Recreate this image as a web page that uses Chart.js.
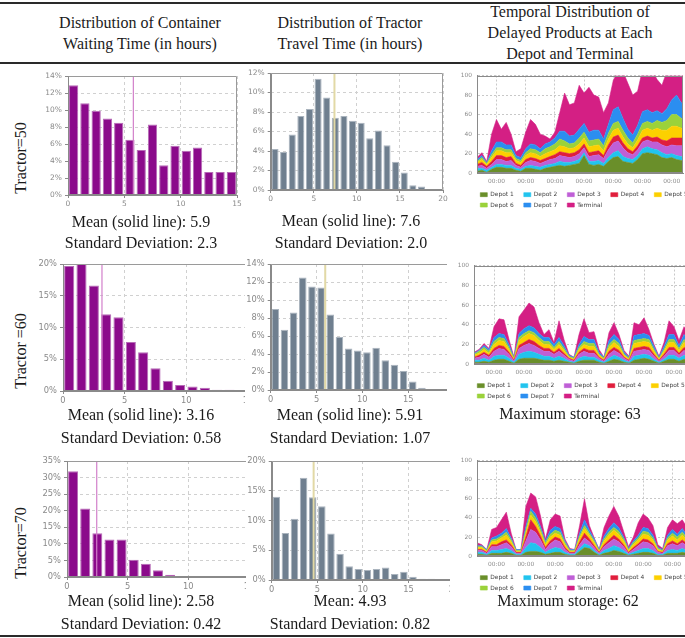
<!DOCTYPE html>
<html>
<head>
<meta charset="utf-8">
<title>Container waiting, tractor travel and delayed products</title>
<script src="https://cdn.jsdelivr.net/npm/chart.js@4.4.1/dist/chart.umd.min.js"></script>
<style>
  html, body { margin:0; padding:0; background:#fff; }
  body { width:685px; height:638px; overflow:hidden; }
  #page { position:relative; width:685px; height:638px; overflow:hidden; background:#fff; }
  #page canvas { position:absolute; background:#fff; }
  .tx { position:absolute; width:320px; margin-left:-160px; height:20px; margin-top:-10px;
        text-align:center; white-space:nowrap; font-family:'Liberation Serif','Times New Roman',serif;
        font-size:16px; line-height:20px; color:#1b1b1b; z-index:10; }
  .rot { transform:rotate(-90deg); }
  .rule { position:absolute; left:0; width:685px; background:#2a2a2a; z-index:11; }
</style>
</head>
<body>
<div id="page">
  <div class="rule" style="top:2px;height:2px"></div>
  <div class="rule" style="top:62px;height:1.5px"></div>
  <div class="rule" style="top:635px;height:1.5px"></div>

  <div class="tx" style="left:140px;top:23px">Distribution of Container</div>
  <div class="tx" style="left:140px;top:44px">Waiting Time (in hours)</div>
  <div class="tx" style="left:350px;top:23px">Distribution of Tractor</div>
  <div class="tx" style="left:350px;top:44px">Travel Time (in hours)</div>
  <div class="tx" style="left:570px;top:12px">Temporal Distribution of</div>
  <div class="tx" style="left:570px;top:33px">Delayed Products at Each</div>
  <div class="tx" style="left:570px;top:54px">Depot and Terminal</div>

  <div class="tx rot" style="left:21px;top:158px">Tractor=50</div>
  <div class="tx rot" style="left:21px;top:351px">Tractor =60</div>
  <div class="tx rot" style="left:21px;top:543px">Tractor=70</div>

  <div class="tx" style="left:141px;top:222px">Mean (solid line): 5.9</div>
  <div class="tx" style="left:141px;top:243px">Standard Deviation: 2.3</div>
  <div class="tx" style="left:351px;top:221px">Mean (solid line): 7.6</div>
  <div class="tx" style="left:351px;top:243px">Standard Deviation: 2.0</div>

  <div class="tx" style="left:141px;top:415px">Mean (solid line): 3.16</div>
  <div class="tx" style="left:141px;top:438px">Standard Deviation: 0.58</div>
  <div class="tx" style="left:350px;top:415px">Mean (solid line): 5.91</div>
  <div class="tx" style="left:350px;top:438px">Standard Deviation: 1.07</div>
  <div class="tx" style="left:570px;top:414px">Maximum storage: 63</div>

  <div class="tx" style="left:141px;top:601px">Mean (solid line): 2.58</div>
  <div class="tx" style="left:141px;top:624px">Standard Deviation: 0.42</div>
  <div class="tx" style="left:350px;top:601px">Mean: 4.93</div>
  <div class="tx" style="left:350px;top:624px">Standard Deviation: 0.82</div>
  <div class="tx" style="left:568px;top:601px">Maximum storage: 62</div>
</div>
<script>
// ---------------- DATA ----------------
// 1-hour histogram bins (bin centres, hours)
const binCenters = [0.5,1.5,2.5,3.5,4.5,5.5,6.5,7.5,8.5,9.5,10.5,11.5,12.5,13.5,14.5,15.5,16.5,17.5];

// Container waiting time (% per bin)
const waitT50 = [12.9,10.8,9.9,9.0,8.5,6.5,5.3,8.3,3.5,5.8,5.2,5.6,2.7,2.7,2.7];
const waitT60 = [19.7,20.2,16.6,12.1,11.6,7.7,6.1,3.6,1.6,0.95,0.7,0.5,0.2,0.2,0.15];
const waitT70 = [31.9,20.7,13.2,11.3,11.3,5.2,4.0,2.0,0.7,0.3,0.2,0.15,0.1,0.1];
// Tractor travel time (% per bin)
const travelT50 = [4.2,3.9,5.7,7.6,8.3,11.4,9.5,7.4,7.6,7.1,6.9,5.3,6.1,4.6,2.9,1.8,0.5,0.35];
const travelT60 = [9.0,6.7,8.6,12.5,11.5,11.4,8.4,5.9,4.6,4.4,4.2,4.7,3.3,2.8,2.1,0.95,0.25];
const travelT70 = [14.0,7.9,10.3,17.2,13.9,12.4,7.8,4.4,2.3,1.85,1.7,1.85,2.1,1.0,1.4,0.55,0.2,0.2];
// Position of the mean line drawn on each histogram (hours)
const meanWaitT50 = 5.8, meanWaitT60 = 3.16, meanWaitT70 = 2.45;
const meanTravelT50 = 7.4, meanTravelT60 = 5.95, meanTravelT70 = 4.6;

// Delayed products over time: hours relative to first midnight
const hours = [-16,-12,-8,-4,0,4,8,12,16,20,24,28,32,36,40,44,48,52,56,60,64,68,72,76,80,84,88,92,96,100,104,108,112,116,120,124,128,132,136,140,144,148,152,156,160];
const seriesNames = ['Depot 1','Depot 2','Depot 3','Depot 4','Depot 5','Depot 6','Depot 7','Terminal'];

// Tractor = 50
const t50_depot1 = [2,3,1,4,6,6,5,5,3,2,5,5,4,3,5,6,7,8,7,8,9,10,18,9,8,9,7,12,16,17,12,11,10,14,20,21,20,19,16,15,16,14,13,13,13];
const t50_depot2 = [3,2,2,2,3,3,3,3,2,2,2,3,3,3,3,3,3,4,4,3,3,4,3,3,4,4,3,4,5,6,5,4,4,4,5,6,5,5,5,4,4,4,4,4,4];
const t50_depot3 = [2,3,2,3,5,5,4,5,3,2,4,5,5,4,4,5,5,6,6,5,5,6,5,5,6,6,5,8,10,10,9,6,5,6,7,7,7,8,8,8,9,10,11,11,11];
const t50_depot4 = [2,3,2,3,4,4,4,4,2,2,3,3,3,3,3,3,4,4,4,4,4,4,4,4,4,4,3,5,6,6,5,4,3,4,4,4,4,5,5,6,7,8,8,8,8];
const t50_depot5 = [2,3,2,4,5,5,5,4,3,3,4,5,5,4,5,5,5,6,6,5,5,6,6,6,6,6,5,6,7,7,6,5,4,6,8,8,8,9,10,11,12,12,10,10,10];
const t50_depot6 = [1,2,1,3,3,3,3,3,2,2,3,4,4,4,5,5,6,7,6,5,5,6,6,6,6,6,5,6,7,7,7,6,5,6,7,7,7,8,8,10,12,12,10,10,10];
const t50_depot7 = [2,2,1,4,6,6,5,5,3,3,4,5,5,4,5,5,6,8,10,8,8,9,9,9,10,9,7,9,14,15,12,9,8,9,12,12,11,10,9,12,15,20,16,16,16];
const t50_terminal = [2,3,1,17,23,13,23,11,4,9,17,25,21,15,8,3,6,19,39,32,33,45,31,46,36,34,27,22,30,37,48,47,41,35,43,43,43,32,29,38,33,26,32,32,32];

// Tractor = 60
const t60_depot1 = [2,2,3,2,4,5,5,3,1,5,6,6,6,5,4,4,3,4,3,2,1,3,4,4,4,2,1,3,5,4,2,1,4,5,6,5,3,1,3,5,5,3,5,4,3];
const t60_depot2 = [2,2,3,2,4,4,4,3,1,5,6,7,6,5,4,4,3,4,3,1,1,3,4,3,3,2,1,3,4,3,2,1,4,4,4,4,2,1,2,4,4,3,4,3,3];
const t60_depot3 = [2,3,4,3,5,7,6,4,1,6,7,8,7,6,5,5,4,5,3,2,1,4,5,4,4,2,1,4,5,4,2,1,5,5,5,5,3,1,3,5,5,3,5,4,3];
const t60_depot4 = [1,2,2,2,3,3,3,2,1,3,3,4,4,3,3,3,2,3,2,1,1,2,3,3,3,1,1,3,3,3,1,1,3,3,3,3,2,1,2,3,3,2,3,3,2];
const t60_depot5 = [2,2,3,2,4,5,5,3,1,5,6,6,6,5,4,4,3,4,3,1,1,3,4,4,4,2,1,4,5,4,2,1,5,5,5,5,3,1,3,5,5,3,5,4,3];
const t60_depot6 = [1,2,2,2,3,3,3,2,1,3,3,3,3,3,3,3,2,3,2,1,1,2,3,3,3,1,1,3,3,3,1,1,3,3,3,3,2,1,2,3,3,2,3,2,2];
const t60_depot7 = [1,1,2,2,4,4,4,3,1,4,5,5,5,4,4,4,3,4,3,1,1,3,5,4,4,2,1,4,5,4,2,1,5,5,5,4,3,1,3,5,5,3,5,4,3];
const t60_terminal = [1,1,2,1,11,15,15,5,0,17,19,23,21,11,3,8,2,17,6,1,0,10,18,7,8,3,0,8,12,5,2,1,13,10,16,6,2,1,4,14,8,5,8,6,5];

// Tractor = 70
const t70_depot1 = [2,2,1,3,3,3,4,3,1,1,4,5,5,4,2,3,4,4,2,1,1,5,9,8,4,1,3,4,6,5,3,1,2,3,4,4,3,1,1,3,3,3,4,3,3];
const t70_depot2 = [2,2,1,3,3,4,4,3,1,1,5,9,8,5,2,4,5,4,2,1,1,3,4,3,2,1,3,4,5,4,3,1,2,3,4,4,3,1,1,3,4,3,4,3,3];
const t70_depot3 = [2,2,1,4,4,5,6,4,1,1,7,14,12,8,3,6,8,7,3,1,1,4,6,4,3,1,4,6,7,6,4,1,3,5,7,6,5,2,1,5,6,5,6,5,4];
const t70_depot4 = [1,1,1,2,2,3,3,2,1,1,4,10,6,4,2,3,3,3,2,1,1,3,5,3,2,1,2,3,4,3,2,1,2,2,3,3,2,1,1,2,3,2,3,2,2];
const t70_depot5 = [2,2,1,3,4,4,5,3,1,1,4,5,5,4,3,4,4,4,3,1,1,4,5,4,3,1,4,5,5,5,4,2,3,4,5,5,4,2,1,4,5,4,5,4,3];
const t70_depot6 = [1,1,1,2,2,2,3,2,1,1,3,4,4,3,2,3,3,3,2,1,1,2,3,2,2,1,2,3,3,3,2,1,2,2,3,3,2,1,1,2,3,3,3,2,2];
const t70_depot7 = [1,1,1,2,3,3,4,2,1,1,4,3,4,3,2,4,4,4,2,1,1,3,6,3,2,1,3,4,5,4,2,1,2,3,4,4,3,1,1,3,4,3,4,3,3];
const t70_terminal = [3,1,0,9,9,14,17,5,0,0,21,16,18,11,2,11,13,13,2,1,0,8,22,5,1,0,9,13,17,12,6,2,4,13,14,11,10,3,1,8,10,11,9,8,5];

const seriesColors = ['#6a8f2a','#22c4ee','#bf5fd6','#e01e3c','#fcd000','#9bd23a','#2b8ef0','#d41f84'];

// ---------------- RENDERING ----------------
Chart.defaults.font.family = "'DejaVu Sans', Verdana, sans-serif";
Chart.defaults.color = '#808080';

const framePlugin = {
  id: 'frame',
  afterDatasetsDraw(chart, args, opts) {
    const a = chart.chartArea, ctx = chart.ctx;
    const l = Math.round(a.left) + 0.5, r = Math.round(a.right) - 0.5;
    const t = Math.round(a.top) + 0.5, b = Math.round(a.bottom) - 0.5;
    ctx.save();
    ctx.lineWidth = 1;
    ctx.strokeStyle = opts.color || '#999';
    ctx.beginPath();
    ctx.moveTo(l, t); ctx.lineTo(r, t); ctx.lineTo(r, b);
    ctx.stroke();
    ctx.strokeStyle = opts.axisColor || '#888';
    ctx.beginPath();
    ctx.moveTo(l, t); ctx.lineTo(l, b); ctx.lineTo(r, b);
    ctx.stroke();
    ctx.restore();
  }
};

// Aligns the legend's first item with the plot's left edge (as in the original figure)
const legendShift = {
  id: 'legendShift',
  afterLayout(chart, args, opts) {
    const lg = chart.legend;
    if (!lg) return;
    const dx = chart.chartArea.left + (opts.offset || 0) - (lg.left + lg.options.labels.padding);
    lg.left += dx; lg.right += dx;
  }
};

function histConfig(o) {
  return () => ({
    type: 'bar',
    data: {
      datasets: [
        { type: 'line', label: 'Mean', order: 0,
          data: [{x: o.mean, y: 0}, {x: o.mean, y: o.ymax}],
          borderColor: o.meanColor, borderWidth: o.meanWidth, pointRadius: 0, fill: false },
        { type: 'bar', label: 'Share', order: 1,
          data: o.values.map((v, i) => ({x: binCenters[i], y: v})),
          backgroundColor: o.color, borderColor: o.edge, borderWidth: 1,
          barPercentage: 0.82, categoryPercentage: 1 }
      ]
    },
    options: {
      responsive: false, animation: false, events: [],
      layout: { padding: { left: 0, top: 8, right: 8, bottom: 2 } },
      plugins: { legend: { display: false }, tooltip: { enabled: false },
                 frame: { color: '#9a9a9a', axisColor: '#8a8a8a' } },
      scales: {
        x: { type: 'linear', min: 0, max: o.xmax, offset: false,
             ticks: { stepSize: 5, color: '#8a8a8a', font: { size: o.fs }, padding: 2, maxRotation: 0 },
             grid: { offset: false, color: '#d0d0d0', tickColor: '#8a8a8a', tickLength: 3 },
             border: { color: '#8a8a8a', dash: [3, 3] },
             afterFit: s => { s.height = 16; } },
        y: { min: 0, max: o.ymax,
             ticks: { stepSize: o.ystep, color: '#8a8a8a', font: { size: o.fs }, padding: 3,
                      callback: v => v + '%' },
             grid: { color: '#d0d0d0', tickColor: '#8a8a8a', tickLength: 3 },
             border: { color: '#8a8a8a', dash: [3, 3] },
             afterFit: s => { s.width = o.yW; } }
      }
    },
    plugins: [framePlugin]
  });
}

const areaPadLeft = 9, areaYW = 18, areaW = 250;

function areaConfig(o) {
  const layers = o.layers;
  return () => ({
    type: 'line',
    data: {
      datasets: seriesNames.map((name, k) => ({
        label: name,
        data: layers[k].map((v, i) => ({x: hours[i], y: v})),
        backgroundColor: seriesColors[k], borderColor: seriesColors[k], borderWidth: 0.6,
        pointRadius: 0, tension: 0, fill: k === 0 ? 'origin' : '-1'
      }))
    },
    options: {
      responsive: false, animation: false, events: [],
      layout: { padding: { left: areaPadLeft, top: 8, right: 0, bottom: 0 } },
      plugins: {
        tooltip: { enabled: false },
        frame: { color: '#8a8a8a', axisColor: '#8a8a8a' },
        legendShift: { offset: 3.3 },
        legend: { position: 'bottom', align: 'start',
          labels: { boxWidth: 7, boxHeight: 4, padding: 4.5, color: '#444',
                    font: { size: 5.9 },
                    generateLabels: ch => Chart.defaults.plugins.legend.labels.generateLabels(ch)
                                          .map(it => Object.assign(it, { text: it.text + '   ' })) } }
      },
      scales: {
        x: { type: 'linear', min: o.xmin, max: o.xmax,
             ticks: { stepSize: 24, includeBounds: false, maxRotation: 0, padding: 4.5,
                      color: '#8a8a8a', font: { size: 5.9 },
                      callback: v => (v % 24 === 0 ? '00:00' : null) },
             grid: { color: '#c8c8c8', drawTicks: false },
             border: { color: '#8a8a8a', dash: [2, 2] },
             afterFit: s => { s.height = 14; } },
        y: { stacked: true, min: 0, max: 100,
             ticks: { stepSize: 20, padding: 5, color: '#8a8a8a', font: { size: 5.9 } },
             grid: { color: '#c8c8c8', drawTicks: false },
             border: { color: '#8a8a8a', dash: [2, 2] },
             afterFit: s => { s.width = areaYW; } },
        yR: { type: 'linear', position: 'right', display: true,
              grid: { display: false, drawTicks: false }, ticks: { display: false },
              border: { display: false },
              afterFit: s => { s.width = areaW - areaPadLeft - areaYW - o.plotW; } }
      }
    },
    plugins: [framePlugin, legendShift]
  });
}

function mount(id, makeCfg, box, z, fixedW) {
  const page = document.getElementById('page');
  function create(w, h) {
    const cv = document.createElement('canvas');
    cv.id = id; cv.width = w; cv.height = h;
    cv.style.zIndex = z;
    page.appendChild(cv);
    return { cv, chart: new Chart(cv, makeCfg()) };
  }
  const w0 = fixedW || 320, h0 = 260;
  const first = create(w0, h0);
  const a = first.chart.chartArea;
  const ol = a.left, ot = a.top, orr = w0 - a.right, ob = h0 - a.bottom;
  first.chart.destroy(); first.cv.remove();
  const w = fixedW || Math.round(box.R - box.L + ol + orr);
  const h = Math.round(box.B - box.T + ot + ob);
  const fin = create(w, h);
  fin.cv.style.left = Math.round(box.L - ol) + 'px';
  fin.cv.style.top = Math.round(box.T - ot) + 'px';
}

const purple = { color: '#8b0a8b', edge: '#b66bb6', meanColor: '#d27fca', meanWidth: 1.2, xmax: 15, yW: 30 };
const slate  = { color: '#6f7f8f', edge: '#aab4be', meanColor: '#e2d9a6', meanWidth: 2, xmax: 20, yW: 25.7 };

// Row 1 (Tractor = 50)
mount('w50', histConfig(Object.assign({}, purple, { values: waitT50, mean: meanWaitT50, ymax: 14, ystep: 2, fs: 7.5 })),
      { L: 68.3, T: 76, R: 237.3, B: 195 }, 1);
mount('v50', histConfig(Object.assign({}, slate, { values: travelT50, mean: meanTravelT50, ymax: 12, ystep: 2, fs: 7.5 })),
      { L: 270.7, T: 73.3, R: 443.3, B: 190.7 }, 2);
mount('s50', areaConfig({ layers: [t50_depot1, t50_depot2, t50_depot3, t50_depot4, t50_depot5, t50_depot6, t50_depot7, t50_terminal],
                          xmin: -16, xmax: 153.3, plotW: 206 }),
      { L: 476.7, T: 75.7, B: 173.3 }, 3, areaW);

// Row 2 (Tractor = 60)
mount('w60', histConfig(Object.assign({}, purple, { values: waitT60, mean: meanWaitT60, ymax: 20, ystep: 5, fs: 8.3 })),
      { L: 63.3, T: 264.3, R: 248.3, B: 391 }, 1);
mount('v60', histConfig(Object.assign({}, slate, { values: travelT60, mean: meanTravelT60, ymax: 14, ystep: 2, fs: 8.3 })),
      { L: 270.7, T: 264.3, R: 453.9, B: 390.3 }, 2);
mount('s60', areaConfig({ layers: [t60_depot1, t60_depot2, t60_depot3, t60_depot4, t60_depot5, t60_depot6, t60_depot7, t60_terminal],
                          xmin: -16, xmax: 160, plotW: 220 }),
      { L: 474, T: 265.7, B: 364 }, 3, areaW);

// Row 3 (Tractor = 70)
mount('w70', histConfig(Object.assign({}, purple, { values: waitT70, mean: meanWaitT70, ymax: 35, ystep: 5, fs: 8.3 })),
      { L: 66.7, T: 460.7, R: 248.2, B: 576.3 }, 1);
mount('v70', histConfig(Object.assign({}, slate, { values: travelT70, mean: meanTravelT70, ymax: 20, ystep: 5, fs: 8.3 })),
      { L: 271.7, T: 460.7, R: 454.3, B: 579.3 }, 2);
mount('s70', areaConfig({ layers: [t70_depot1, t70_depot2, t70_depot3, t70_depot4, t70_depot5, t70_depot6, t70_depot7, t70_terminal],
                          xmin: -16, xmax: 160, plotW: 215 }),
      { L: 476.7, T: 461, B: 556.7 }, 3, areaW);
</script>
</body>
</html>
